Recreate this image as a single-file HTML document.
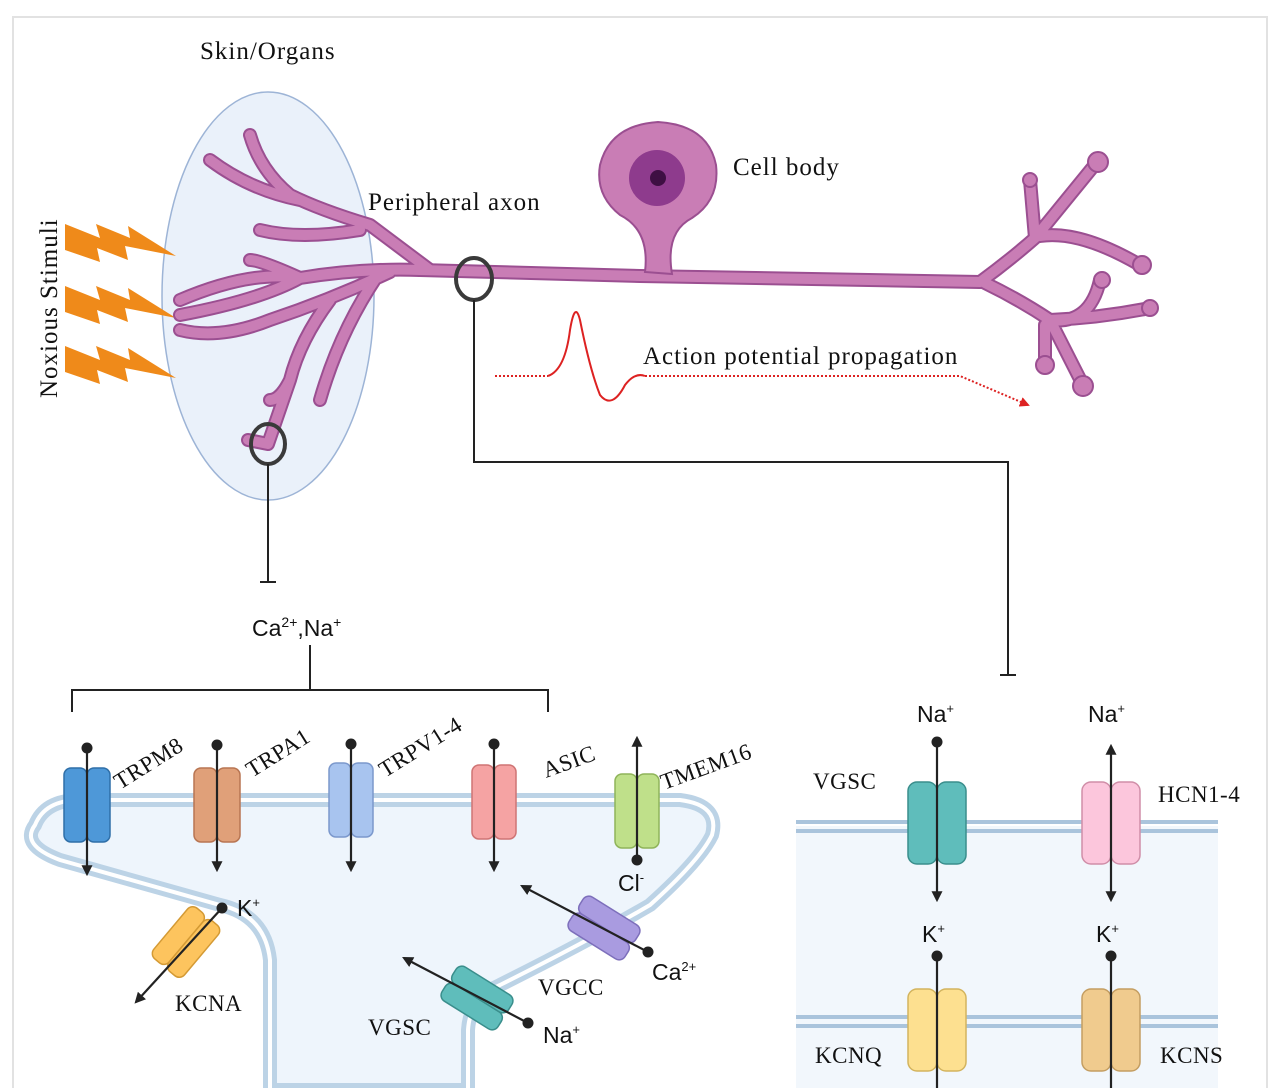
<!DOCTYPE html>
<html><head><meta charset="utf-8"><style>
html,body{margin:0;padding:0;background:#fff;}
svg{display:block}
.s{font-family:"Liberation Serif",serif;fill:#111}
.a{font-family:"Liberation Sans",sans-serif;fill:#111}
</style></head><body>
<svg width="1280" height="1088" viewBox="0 0 1280 1088" xmlns="http://www.w3.org/2000/svg">
<defs>
<marker id="ah" viewBox="0 0 10 10" refX="8" refY="5" markerWidth="5" markerHeight="5" orient="auto-start-reverse"><path d="M0,0L10,5L0,10z" fill="#222"/></marker>
<marker id="dt" viewBox="0 0 10 10" refX="5" refY="5" markerWidth="5" markerHeight="5"><circle cx="5" cy="5" r="5" fill="#222"/></marker>
<marker id="rh" viewBox="0 0 10 10" refX="8" refY="5" markerWidth="5" markerHeight="5" orient="auto"><path d="M0,0L10,5L0,10z" fill="#d22"/></marker>
</defs>
<rect x="13" y="17" width="1254" height="1100" fill="#fff" stroke="#e2e2e2" stroke-width="2"/>

<ellipse cx="268" cy="296" rx="106" ry="204" fill="#eaf1fa" stroke="#9db4d6" stroke-width="1.5"/>
<g class="s" font-size="25" letter-spacing="1">
<text x="200" y="59">Skin/Organs</text>
<text x="368" y="210">Peripheral axon</text>
<text x="733" y="175">Cell body</text>
<text x="643" y="364">Action potential propagation</text>
<text transform="translate(57,398) rotate(-90)">Noxious Stimuli</text>
</g>

<g fill="#ef8a1a">
<path d="M65,224 L100,238 L96,224 L130,238 L128,226 L176,256 L125,246 L128,260 L97,248 L100,262 L65,250z"/>
<path d="M65,286 L100,300 L96,286 L130,300 L128,288 L176,318 L125,308 L128,322 L97,310 L100,324 L65,312z"/>
<path d="M65,346 L100,360 L96,346 L130,360 L128,348 L176,378 L125,368 L128,382 L97,370 L100,384 L65,372z"/>
</g>

<g fill="none" stroke-linecap="round" stroke-linejoin="round">
<g stroke="#9b4f91" stroke-width="14">
<path d="M420,270 L640,276 L980,282"/>
<path d="M980,282 Q1010,260 1035,238 L1030,180 M1035,238 L1097,162 M1040,236 Q1080,230 1140,265 M985,283 Q1020,300 1050,320 Q1090,325 1100,280 M1050,320 L1083,385 M1050,320 Q1100,318 1150,308 M1045,325 L1045,365"/>
<path d="M430,270 Q390,240 370,225 Q320,210 290,195 Q260,170 250,135 M300,200 Q250,190 210,160 M360,230 Q300,240 260,230 M420,270 Q360,268 300,278 Q250,270 180,300 M300,278 Q260,300 180,315 M300,278 Q260,260 250,260 M390,272 Q330,300 270,320 Q220,340 180,330 M330,300 Q300,340 290,380 L268,444 L248,440 M290,380 Q280,400 270,400 M380,272 Q340,330 320,400"/>
</g>
<g stroke="#c97db5" stroke-width="10">
<path d="M420,270 L640,276 L980,282"/>
<path d="M980,282 Q1010,260 1035,238 L1030,180 M1035,238 L1097,162 M1040,236 Q1080,230 1140,265 M985,283 Q1020,300 1050,320 Q1090,325 1100,280 M1050,320 L1083,385 M1050,320 Q1100,318 1150,308 M1045,325 L1045,365"/>
<path d="M430,270 Q390,240 370,225 Q320,210 290,195 Q260,170 250,135 M300,200 Q250,190 210,160 M360,230 Q300,240 260,230 M420,270 Q360,268 300,278 Q250,270 180,300 M300,278 Q260,300 180,315 M300,278 Q260,260 250,260 M390,272 Q330,300 270,320 Q220,340 180,330 M330,300 Q300,340 290,380 L268,444 L248,440 M290,380 Q280,400 270,400 M380,272 Q340,330 320,400"/>
</g>
</g>
<g fill="#c97db5" stroke="#9b4f91" stroke-width="2">
<circle cx="1030" cy="180" r="7"/><circle cx="1098" cy="162" r="10"/><circle cx="1142" cy="265" r="9"/><circle cx="1102" cy="280" r="8"/><circle cx="1150" cy="308" r="8"/><circle cx="1045" cy="365" r="9"/><circle cx="1083" cy="386" r="10"/>
<path d="M645,272 Q650,230 620,215 Q595,195 600,165 Q610,125 658,122 Q708,125 716,165 Q720,200 692,218 Q665,232 672,274z"/>
</g>
<circle cx="657" cy="178" r="28" fill="#8e3b8d"/>
<circle cx="658" cy="178" r="8" fill="#3e0f43"/>

<ellipse cx="474" cy="279" rx="18" ry="21" fill="none" stroke="#3a3a3a" stroke-width="4"/>
<ellipse cx="268" cy="444" rx="17" ry="20" fill="none" stroke="#3a3a3a" stroke-width="4"/>

<path d="M495,376 L548,376" stroke="#d22" stroke-width="2" stroke-dasharray="2,2" fill="none"/>
<path d="M548,376 Q565,370 570,330 Q575,300 580,320 Q590,370 600,395 Q612,410 625,385 Q635,372 645,376" stroke="#d22" stroke-width="2" fill="none"/>
<path d="M645,376 L960,376 L1028,405" stroke="#d22" stroke-width="2" stroke-dasharray="2,2" fill="none" marker-end="url(#rh)"/>

<g stroke="#222" stroke-width="2" fill="none">
<path d="M474,300 L474,462 L1008,462 L1008,675 M1000,675 L1016,675"/>
<path d="M268,464 L268,582 M260,582 L276,582"/>
<path d="M310,645 L310,690 M72,712 L72,690 L548,690 L548,712"/>
</g>
<text class="a" x="252" y="636" font-size="23">Ca<tspan font-size="14" dy="-9">2+</tspan><tspan dy="9">,Na</tspan><tspan font-size="14" dy="-9">+</tspan></text>

<path d="M270,1090 L270,960 Q265,915 220,905 L60,860 Q20,845 35,825 Q45,800 80,800 L680,800 Q720,805 712,835 Q700,860 650,905 Q590,940 500,985 Q470,998 468,1030 L468,1090z" fill="#eef5fc" stroke="#bcd3e6" stroke-width="14"/>
<path d="M270,1090 L270,960 Q265,915 220,905 L60,860 Q20,845 35,825 Q45,800 80,800 L680,800 Q720,805 712,835 Q700,860 650,905 Q590,940 500,985 Q470,998 468,1030 L468,1090" fill="none" stroke="#fff" stroke-width="4"/>

<rect x="796" y="826" width="422" height="262" fill="#f2f7fc"/>
<g stroke="#aac4dc" stroke-width="4"><line x1="796" y1="822" x2="1218" y2="822"/><line x1="796" y1="831" x2="1218" y2="831"/><line x1="796" y1="1017" x2="1218" y2="1017"/><line x1="796" y1="1026" x2="1218" y2="1026"/></g>

<g stroke-width="1.5">
<g transform="translate(87,805)"><rect x="-23" y="-37" width="23" height="74" rx="7" fill="#4e98d8" stroke="#2f6fa8"/><rect x="0" y="-37" width="23" height="74" rx="7" fill="#4e98d8" stroke="#2f6fa8"/></g>
<g transform="translate(217,805)"><rect x="-23" y="-37" width="23" height="74" rx="7" fill="#e0a079" stroke="#b87552"/><rect x="0" y="-37" width="23" height="74" rx="7" fill="#e0a079" stroke="#b87552"/></g>
<g transform="translate(351,800)"><rect x="-22" y="-37" width="22" height="74" rx="7" fill="#a8c4ef" stroke="#7b98cc"/><rect x="0" y="-37" width="22" height="74" rx="7" fill="#a8c4ef" stroke="#7b98cc"/></g>
<g transform="translate(494,802)"><rect x="-22" y="-37" width="22" height="74" rx="7" fill="#f5a3a3" stroke="#cf7474"/><rect x="0" y="-37" width="22" height="74" rx="7" fill="#f5a3a3" stroke="#cf7474"/></g>
<g transform="translate(637,811)"><rect x="-22" y="-37" width="22" height="74" rx="7" fill="#bfe08a" stroke="#8fb45a"/><rect x="0" y="-37" width="22" height="74" rx="7" fill="#bfe08a" stroke="#8fb45a"/></g>
<g transform="translate(937,823)"><rect x="-29" y="-41" width="29" height="82" rx="9" fill="#5fbdbb" stroke="#3a8e8c"/><rect x="0" y="-41" width="29" height="82" rx="9" fill="#5fbdbb" stroke="#3a8e8c"/></g>
<g transform="translate(1111,823)"><rect x="-29" y="-41" width="29" height="82" rx="9" fill="#fcc6dc" stroke="#d08ea8"/><rect x="0" y="-41" width="29" height="82" rx="9" fill="#fcc6dc" stroke="#d08ea8"/></g>
<g transform="translate(937,1030)"><rect x="-29" y="-41" width="29" height="82" rx="9" fill="#fde090" stroke="#d3b45e"/><rect x="0" y="-41" width="29" height="82" rx="9" fill="#fde090" stroke="#d3b45e"/></g>
<g transform="translate(1111,1030)"><rect x="-29" y="-41" width="29" height="82" rx="9" fill="#f0cb8e" stroke="#c49e62"/><rect x="0" y="-41" width="29" height="82" rx="9" fill="#f0cb8e" stroke="#c49e62"/></g>
<g transform="translate(186,942) rotate(40)"><rect x="-20" y="-33" width="20" height="66" rx="7" fill="#fdc45e" stroke="#d49a34"/><rect x="0" y="-33" width="20" height="66" rx="7" fill="#fdc45e" stroke="#d49a34"/></g>
<g transform="translate(604,928) rotate(-58)"><rect x="-20" y="-33" width="20" height="66" rx="7" fill="#a99be0" stroke="#7d6fbb"/><rect x="0" y="-33" width="20" height="66" rx="7" fill="#a99be0" stroke="#7d6fbb"/></g>
<g transform="translate(477,998) rotate(-58)"><rect x="-20" y="-33" width="20" height="66" rx="7" fill="#5fbdbb" stroke="#3a8e8c"/><rect x="0" y="-33" width="20" height="66" rx="7" fill="#5fbdbb" stroke="#3a8e8c"/></g>
</g>

<g stroke="#222" stroke-width="2.2" fill="none">
<line x1="87" y1="748" x2="87" y2="874" marker-start="url(#dt)" marker-end="url(#ah)"/>
<line x1="217" y1="745" x2="217" y2="870" marker-start="url(#dt)" marker-end="url(#ah)"/>
<line x1="351" y1="744" x2="351" y2="870" marker-start="url(#dt)" marker-end="url(#ah)"/>
<line x1="494" y1="744" x2="494" y2="870" marker-start="url(#dt)" marker-end="url(#ah)"/>
<line x1="637" y1="860" x2="637" y2="738" marker-start="url(#dt)" marker-end="url(#ah)"/>
<line x1="222" y1="908" x2="136" y2="1002" marker-start="url(#dt)" marker-end="url(#ah)"/>
<line x1="648" y1="952" x2="522" y2="886" marker-start="url(#dt)" marker-end="url(#ah)"/>
<line x1="528" y1="1023" x2="404" y2="958" marker-start="url(#dt)" marker-end="url(#ah)"/>
<line x1="937" y1="742" x2="937" y2="900" marker-start="url(#dt)" marker-end="url(#ah)"/>
<line x1="1111" y1="900" x2="1111" y2="746" marker-start="url(#ah)" marker-end="url(#ah)"/>
<line x1="937" y1="956" x2="937" y2="1090" marker-start="url(#dt)"/>
<line x1="1111" y1="956" x2="1111" y2="1090" marker-start="url(#dt)"/>
</g>

<g class="s" font-size="23" letter-spacing="0.5">
<text transform="translate(120,790) rotate(-32)">TRPM8</text>
<text transform="translate(252,778) rotate(-32)">TRPA1</text>
<text transform="translate(385,778) rotate(-32)">TRPV1-4</text>
<text transform="translate(546,778) rotate(-20)">ASIC</text>
<text transform="translate(664,790) rotate(-20)">TMEM16</text>
<text x="175" y="1011">KCNA</text>
<text x="538" y="995">VGCC</text>
<text x="368" y="1035">VGSC</text>
<text x="813" y="789">VGSC</text>
<text x="1158" y="802">HCN1-4</text>
<text x="815" y="1063">KCNQ</text>
<text x="1160" y="1063">KCNS</text>
</g>
<g class="a" font-size="23">
<text x="237" y="916">K<tspan font-size="13" dy="-9">+</tspan></text>
<text x="618" y="891">Cl<tspan font-size="13" dy="-9">-</tspan></text>
<text x="652" y="980">Ca<tspan font-size="13" dy="-9">2+</tspan></text>
<text x="543" y="1043">Na<tspan font-size="13" dy="-9">+</tspan></text>
<text x="917" y="722">Na<tspan font-size="13" dy="-9">+</tspan></text>
<text x="1088" y="722">Na<tspan font-size="13" dy="-9">+</tspan></text>
<text x="922" y="942">K<tspan font-size="13" dy="-9">+</tspan></text>
<text x="1096" y="942">K<tspan font-size="13" dy="-9">+</tspan></text>
</g>
</svg>
</body></html>
